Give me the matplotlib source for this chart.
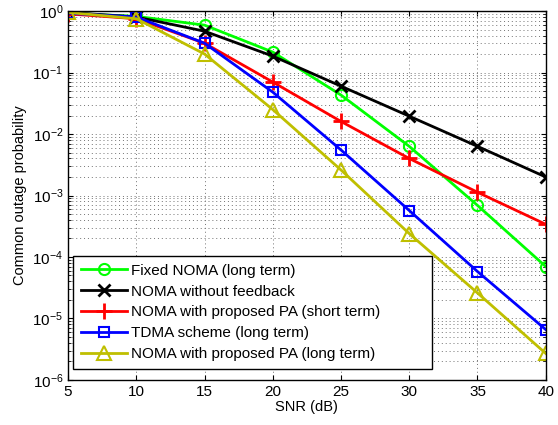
from matplotlib import pyplot as plt
import numpy as np

snr = [5, 10, 15, 20, 25, 30, 35, 40]

fixed_noma = [0.92, 0.82, 0.59, 0.215, 0.043, 0.0063, 6.9e-4, 7.0e-5]
noma_no_fb = [0.95, 0.80, 0.47, 0.185, 0.060, 0.0195, 0.0063, 0.0020]
noma_pa_short = [0.90, 0.75, 0.30, 0.070, 0.016, 0.0040, 0.00113, 3.4e-4]
tdma = [0.92, 0.80, 0.30, 0.048, 0.0055, 5.7e-4, 5.8e-5, 6.6e-6]
noma_pa_long = [0.95, 0.75, 0.20, 0.025, 0.0026, 2.4e-4, 2.6e-5, 2.7e-6]

labels = ['Fixed NOMA (long term)', 'NOMA without feedback',
          'NOMA with proposed PA (short term)', 'TDMA scheme (long term)',
          'NOMA with proposed PA (long term)']

plt.rcParams['font.family'] = ['Liberation Sans', 'DejaVu Sans']

fig = plt.figure(figsize=(5.58, 4.25), dpi=100)
ax = fig.add_axes([0.122, 0.106, 0.856, 0.868])

lw = 2
ax.semilogy(snr, fixed_noma, color=(0, 1, 0), marker='o', mfc='none', mew=1.5, ms=8, lw=lw, label=labels[0])
ax.semilogy(snr, noma_no_fb, color='k', marker='x', mew=2, ms=8, lw=lw, label=labels[1])
ax.semilogy(snr, noma_pa_short, color='r', marker='+', mew=2, ms=11, lw=lw, label=labels[2])
ax.semilogy(snr, tdma, color='b', marker='s', mfc='none', mew=1.5, ms=7, lw=lw, label=labels[3])
ax.semilogy(snr, noma_pa_long, color=(0.75, 0.75, 0), marker='^', mfc='none', mew=1.5, ms=10, lw=lw, label=labels[4])

ax.set_xlim(5, 40)
ax.set_ylim(1e-6, 1)
ax.set_xticks(snr)
ax.grid(True, which='major', linestyle=(0, (1, 3)), color='0.45', lw=0.7)
ax.grid(True, which='minor', axis='y', linestyle=(0, (1, 3)), color='0.45', lw=0.7)
ax.tick_params(which='both', direction='in', top=True, right=True, labelsize=11)
for s in ax.spines.values():
    s.set_linewidth(1)

ax.set_xlabel('SNR (dB)', fontsize=10.5, labelpad=1)
ax.set_ylabel('Common outage probability', fontsize=10.5)

leg = ax.legend(loc='lower left', bbox_to_anchor=(0.0105, 0.03, 0.751, 0.3), mode='expand',
                fontsize=11, fancybox=False, framealpha=1, edgecolor='k', borderaxespad=0,
                handlelength=3, handletextpad=0.3, labelspacing=0.45, borderpad=0.5)
leg.get_frame().set_linewidth(1)

plt.savefig('out.png', dpi=100)
